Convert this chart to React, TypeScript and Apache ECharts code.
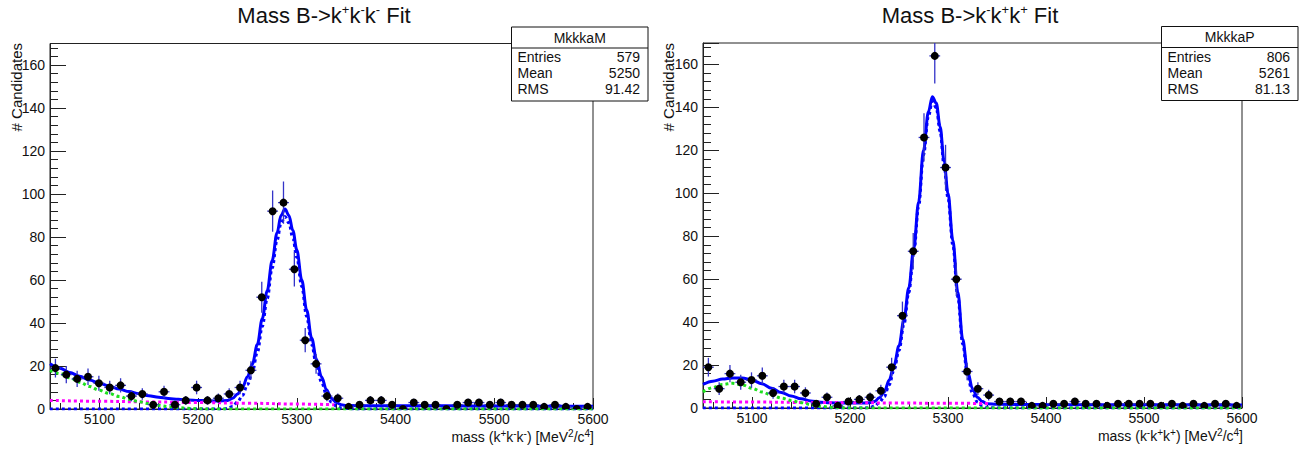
import React, { useEffect, useRef } from "react";
import * as echarts from "echarts";

const FONT = "'Liberation Sans', Arial, Helvetica, sans-serif";
const X_MIN = 5050;
const X_MAX = 5600;
const BIN_W = 11;
const Y_MAX = 170;

const xMajorTicks = [5100, 5200, 5300, 5400, 5500, 5600];
const xMinorTicks = [5060, 5080, 5120, 5140, 5160, 5180, 5220, 5240, 5260, 5280, 5320, 5340, 5360, 5380, 5420, 5440, 5460, 5480, 5520, 5540, 5560, 5580];

// histogram counts (50 bins of 11 MeV from 5050 to 5600)
const leftCounts = [
  19, 16, 14, 15, 12, 10, 11, 6, 7, 2,
  8, 2, 4, 10, 4, 5, 7, 10, 18, 52,
  92, 96, 65, 32, 21, 6, 5, 1, 2, 4,
  4, 2, 0, 3, 2, 2, 0, 2, 3, 3,
  2, 3, 2, 2, 2, 1, 2, 1, 0, 1,
];
const rightCounts = [
  19, 9, 16, 12, 13, 15, 7, 10, 10, 7,
  2, 5, 1, 3, 4, 5, 8, 19, 43, 73,
  126, 164, 112, 60, 17, 9, 6, 3, 3, 3,
  1, 1, 2, 2, 3, 2, 2, 1, 2, 2,
  2, 2, 1, 2, 1, 2, 1, 2, 2, 1,
];

// fit curves: [mass, candidates]
const leftTotal = [
  [5050, 21], [5060, 19], [5070, 17], [5080, 15.2], [5090, 13.5], [5100, 12], [5110, 10.6], [5120, 9.3],
  [5130, 8.1], [5140, 7.1], [5150, 6.2], [5160, 5.5], [5170, 4.9], [5180, 4.5], [5190, 4.2], [5200, 4.0],
  [5210, 3.8], [5220, 3.7], [5230, 4.0], [5235, 5], [5240, 7], [5245, 10], [5250, 15], [5255, 21],
  [5260, 30], [5265, 42], [5270, 55], [5275, 69], [5280, 82], [5284, 90], [5288, 93], [5292, 90],
  [5296, 83], [5300, 74], [5305, 60], [5310, 46], [5315, 33], [5320, 23], [5325, 15], [5330, 9],
  [5335, 5], [5340, 3], [5345, 2], [5350, 1.6], [5400, 1.5], [5450, 1.5], [5500, 1.4], [5550, 1.3], [5600, 1.3],
];
const leftSignal = [
  [5050, 0], [5225, 0], [5230, 0.3], [5235, 1.2], [5240, 3.3], [5245, 6.3], [5250, 11.3], [5255, 17.3],
  [5260, 26.3], [5265, 38.3], [5270, 51.3], [5275, 65.5], [5280, 78.5], [5284, 86.5], [5288, 89.5],
  [5292, 86.5], [5296, 79.5], [5300, 70.5], [5305, 57], [5310, 43], [5315, 30], [5320, 20], [5325, 12.5],
  [5330, 6.8], [5335, 3.2], [5340, 1.3], [5345, 0.5], [5350, 0.2], [5360, 0], [5600, 0],
];
const leftComb = [[5050, 4], [5100, 3.6], [5150, 3.3], [5200, 3.0], [5250, 2.7], [5300, 2.3], [5338, 2.0]];
const leftPartReco = [
  [5050, 18], [5060, 16.5], [5070, 14.5], [5080, 12.5], [5090, 10.5], [5100, 8.7], [5110, 7.2], [5120, 5.8],
  [5130, 4.5], [5140, 3.4], [5150, 2.5], [5160, 1.7], [5170, 1.1], [5180, 0.6], [5190, 0.3], [5200, 0.1],
  [5210, 0], [5600, 0],
];

const rightTotal = [
  [5050, 11], [5060, 12.5], [5070, 13.5], [5080, 14], [5090, 14], [5100, 13], [5110, 11.3], [5120, 9.2],
  [5130, 7.2], [5140, 5.6], [5150, 4.3], [5160, 3.3], [5170, 2.7], [5180, 2.4], [5190, 2.3], [5200, 2.3],
  [5210, 2.3], [5220, 2.4], [5225, 3], [5230, 4.8], [5235, 7.5], [5240, 13], [5245, 20], [5250, 29],
  [5255, 41], [5260, 56], [5265, 74], [5270, 96], [5275, 120], [5280, 138], [5284, 145], [5288, 142],
  [5292, 131], [5296, 115], [5300, 100], [5305, 78], [5310, 54], [5315, 32], [5320, 17], [5325, 9],
  [5330, 5], [5335, 3], [5340, 2], [5350, 1.7], [5400, 1.6], [5500, 1.5], [5600, 1.4],
];
const rightSignal = [
  [5050, 0], [5215, 0], [5220, 0.2], [5225, 0.8], [5230, 2.6], [5235, 5.3], [5240, 10.8], [5245, 17.8],
  [5250, 26.8], [5255, 38.8], [5260, 53.8], [5265, 71.8], [5270, 93.8], [5275, 117.8], [5280, 135.8],
  [5284, 142.8], [5288, 139.8], [5292, 128.8], [5296, 112.8], [5300, 97.8], [5305, 75.8], [5310, 51.8],
  [5315, 29.8], [5320, 14.8], [5325, 6.8], [5330, 2.8], [5335, 1], [5340, 0.3], [5350, 0], [5600, 0],
];
const rightComb = [[5050, 2.9], [5100, 2.8], [5150, 2.6], [5200, 2.5], [5250, 2.3], [5300, 2.2], [5342, 2.1]];
const rightPartReco = [
  [5050, 7.5], [5060, 9.5], [5070, 11], [5080, 11.5], [5090, 10.8], [5100, 9.2], [5110, 7.5], [5120, 6],
  [5130, 4.6], [5140, 3.5], [5150, 2.5], [5160, 1.6], [5170, 0.8], [5180, 0.3], [5190, 0.1], [5200, 0], [5600, 0],
];

const statLabels = ["Entries", "Mean", "RMS"];
const leftStats = ["579", "5250", "91.42"];
const rightStats = ["806", "5261", "81.13"];

const BLUE = "#0000ff";
const GREEN = "#1ee01e";
const MAGENTA = "#ff00ff";
const ERR = "#3434c8";

function richText(parts: [string, boolean][]) {
  return parts.map(([t, sup]) => `{${sup ? "s" : "n"}|${t}}`).join("");
}

export default function App() {
  const ref = useRef<HTMLDivElement>(null);
  useEffect(() => {
    if (!ref.current) return;
    const chart = echarts.init(ref.current, undefined, { renderer: "svg" });

    const grids = [
      { left: 50, top: 43.5, width: 543, height: 365.5 },
      { left: 703, top: 43, width: 539, height: 365 },
    ];

    const xAxes: any[] = [];
    const yAxes: any[] = [];
    grids.forEach((_, g) => {
      xAxes.push({
        type: "value", gridIndex: g, min: X_MIN, max: X_MAX, position: "bottom",
        axisLine: { show: true, lineStyle: { color: "#222", width: 1 } },
        axisTick: { show: true, inside: true, length: 11, customValues: xMajorTicks, lineStyle: { color: "#222" } },
        axisLabel: {
          customValues: xMajorTicks, color: "#111", fontSize: 14, fontFamily: FONT, margin: 3,
          formatter: (v: number) => String(v),
        },
        splitLine: { show: false },
      });
      xAxes.push({
        type: "value", gridIndex: g, min: X_MIN, max: X_MAX, position: "bottom",
        axisLine: { show: false },
        axisTick: { show: true, inside: true, length: 6, customValues: xMinorTicks, lineStyle: { color: "#222" } },
        axisLabel: { show: false },
        splitLine: { show: false },
      });
      yAxes.push({
        type: "value", gridIndex: g, min: 0, max: Y_MAX, interval: 20,
        axisLine: { show: true, lineStyle: { color: "#222", width: 1 } },
        axisTick: { show: true, inside: true, length: 16, lineStyle: { color: "#222" } },
        minorTick: { show: true, splitNumber: 5, length: 8, lineStyle: { color: "#222" } },
        axisLabel: { showMaxLabel: false, color: "#111", fontSize: 14, fontFamily: FONT, margin: 5 },
        splitLine: { show: false },
      });
    });

    const lineSeries = (data: number[][], g: number, color: string, dotted: boolean, z: number) => ({
      type: "line",
      xAxisIndex: g * 2,
      yAxisIndex: g,
      data,
      showSymbol: false,
      smooth: 0.35,
      smoothMonotone: "x",
      clip: true,
      z,
      silent: true,
      lineStyle: dotted
        ? { color, width: 3, type: [3, 3], cap: "butt" }
        : { color, width: 3 },
    });

    const dataSeries = (counts: number[], g: number) => ({
      type: "custom",
      xAxisIndex: g * 2,
      yAxisIndex: g,
      clip: true,
      z: 10,
      data: counts.map((c, i) => [X_MIN + BIN_W * (i + 0.5), c, Math.sqrt(c)]),
      renderItem: (_p: any, api: any) => {
        const x = api.value(0);
        const y = api.value(1);
        const e = api.value(2);
        const p = api.coord([x, y]);
        const l = api.coord([x - BIN_W / 2, y]);
        const r = api.coord([x + BIN_W / 2, y]);
        const t = api.coord([x, y + e]);
        const b = api.coord([x, Math.max(0, y - e)]);
        return {
          type: "group",
          children: [
            { type: "line", shape: { x1: l[0], y1: p[1], x2: r[0], y2: p[1] }, style: { stroke: ERR, lineWidth: 1.3 } },
            { type: "line", shape: { x1: p[0], y1: t[1], x2: p[0], y2: b[1] }, style: { stroke: ERR, lineWidth: 1.3 } },
            { type: "circle", shape: { cx: p[0], cy: p[1], r: 4 }, style: { fill: "#000" } },
          ],
        };
      },
    });

    const richStyles = {
      n: { fontSize: 14, fontFamily: FONT, fill: "#111", lineHeight: 17 },
      s: { fontSize: 10, fontFamily: FONT, fill: "#111", lineHeight: 10, verticalAlign: "top" },
    };
    const titleRich = {
      n: { fontSize: 22, fontFamily: FONT, fill: "#111", lineHeight: 25 },
      s: { fontSize: 13, fontFamily: FONT, fill: "#111", lineHeight: 13, verticalAlign: "top" },
    };

    const statsBox = (x: number, y: number, name: string, vals: string[]) => {
      const w = 136.5;
      const h = 74;
      const children: any[] = [
        { type: "rect", shape: { x: 0, y: 0, width: w, height: h }, style: { fill: "#fff", stroke: "#111", lineWidth: 1 } },
        { type: "line", shape: { x1: 0, y1: 21, x2: w, y2: 21 }, style: { stroke: "#111", lineWidth: 1 } },
        { type: "text", x: w / 2, y: 10.5, style: { text: name, align: "center", verticalAlign: "middle", fontSize: 14, fontFamily: FONT, fill: "#111" } },
      ];
      statLabels.forEach((lab, i) => {
        children.push({ type: "text", x: 6, y: 30 + 16 * i, style: { text: lab, align: "left", verticalAlign: "middle", fontSize: 14, fontFamily: FONT, fill: "#111" } });
        children.push({ type: "text", x: w - 8, y: 30 + 16 * i, style: { text: vals[i], align: "right", verticalAlign: "middle", fontSize: 14, fontFamily: FONT, fill: "#111" } });
      });
      return { type: "group", x, y, z: 100, children };
    };

    const graphics: any[] = [
      {
        type: "text", x: 324, y: 15, z: 100,
        style: { text: richText([["Mass B->k", false], ["+", true], ["k", false], ["-", true], ["k", false], ["-", true], [" Fit", false]]), rich: titleRich, align: "center", verticalAlign: "middle" },
      },
      {
        type: "text", x: 970, y: 15, z: 100,
        style: { text: richText([["Mass B->k", false], ["-", true], ["k", false], ["+", true], ["k", false], ["+", true], [" Fit", false]]), rich: titleRich, align: "center", verticalAlign: "middle" },
      },
      {
        type: "text", x: 594, y: 437, z: 100,
        style: { text: richText([["mass (k", false], ["+", true], ["k", false], ["-", true], ["k", false], ["-", true], [") [MeV", false], ["2", true], ["/c", false], ["4", true], ["]", false]]), rich: richStyles, align: "right", verticalAlign: "middle" },
      },
      {
        type: "text", x: 1243, y: 436, z: 100,
        style: { text: richText([["mass (k", false], ["-", true], ["k", false], ["+", true], ["k", false], ["+", true], [") [MeV", false], ["2", true], ["/c", false], ["4", true], ["]", false]]), rich: richStyles, align: "right", verticalAlign: "middle" },
      },
      {
        type: "text", x: 16.5, y: 43, rotation: Math.PI / 2, z: 100,
        style: { text: "# Candidates", align: "right", verticalAlign: "middle", fontSize: 15, fontFamily: FONT, fill: "#111" },
      },
      {
        type: "text", x: 668, y: 43, rotation: Math.PI / 2, z: 100,
        style: { text: "# Candidates", align: "right", verticalAlign: "middle", fontSize: 15, fontFamily: FONT, fill: "#111" },
      },
      statsBox(511.5, 27, "MkkkaM", leftStats),
      statsBox(1161.5, 26.5, "MkkkaP", rightStats),
    ];

    chart.setOption({
      animation: false,
      backgroundColor: "#fff",
      grid: grids.map((g) => ({ ...g, show: true, borderColor: "#222", borderWidth: 1, backgroundColor: "transparent" })),
      xAxis: xAxes,
      yAxis: yAxes,
      series: [
        lineSeries(leftTotal, 0, BLUE, false, 3),
        lineSeries(leftSignal, 0, BLUE, true, 4),
        lineSeries(leftComb, 0, MAGENTA, true, 4),
        lineSeries(leftPartReco, 0, GREEN, true, 5),
        dataSeries(leftCounts, 0),
        lineSeries(rightTotal, 1, BLUE, false, 3),
        lineSeries(rightSignal, 1, BLUE, true, 4),
        lineSeries(rightComb, 1, MAGENTA, true, 4),
        lineSeries(rightPartReco, 1, GREEN, true, 5),
        dataSeries(rightCounts, 1),
      ],
      graphic: graphics,
    });
    return () => chart.dispose();
  }, []);

  return (
    <div
      ref={ref}
      style={{ position: "fixed", left: 0, top: 0, width: 1312, height: 453, background: "#fff" }}
    />
  );
}
